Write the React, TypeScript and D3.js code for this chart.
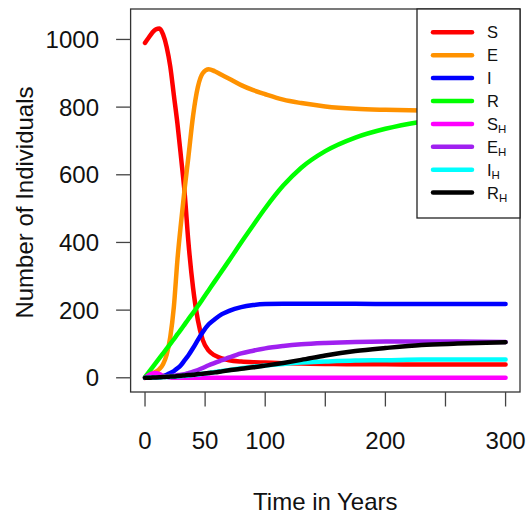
import React from 'react';
import * as d3 from 'd3';

// ---- data ----
const TIME = [0, 3, 6, 9, 12, 15, 18, 21, 24, 27, 30, 33, 36, 40, 44, 48, 53, 58, 64, 70, 80, 90, 100, 115, 130, 150, 175, 200, 230, 260, 300];

const S_VALUES = [990, 1005, 1020, 1030, 1032, 1015, 978, 920, 835, 750, 650, 545, 405, 265, 170, 112, 80, 66, 57, 52, 48, 46, 45, 43, 42, 41, 40, 40, 39, 39, 39];
const E_VALUES = [0, 6, 12, 18, 26, 40, 68, 120, 210, 350, 460, 560, 650, 775, 860, 900, 912, 906, 895, 884, 865, 850, 838, 822, 812, 802, 795, 792, 790, 789, 788];
const I_VALUES = [0, 0, 1, 2, 3, 5, 9, 14, 20, 28, 38, 52, 66, 88, 112, 135, 158, 173, 188, 198, 209, 215, 218, 219, 219, 219, 218.5, 218, 218, 218, 218];
const R_VALUES = [2, 16, 30, 44, 58, 72, 86, 100, 114, 129, 143, 158, 173, 192, 212, 233, 259, 285, 316, 347, 400, 451, 501, 568, 621, 670, 710, 736, 757, 771, 782];
const SH_VALUES = [0, 8, 13, 14, 11, 6, 3, 1, 0.3, 0, 0, 0, 0, 0, 0, 0, 0, 0, 0, 0, 0, 0, 0, 0, 0, 0, 0, 0, 0, 0, 0];
const EH_VALUES = [0, 0, 1, 1, 2, 3, 4, 5, 6, 8, 9, 11, 14, 18, 23, 29, 37, 44, 52, 60, 72, 80, 87, 94, 99, 103, 106, 107, 107, 107, 106];
const IH_VALUES = [0, 0, 0, 1, 1, 2, 2, 3, 3, 4, 5, 6, 7, 8, 10, 12, 14, 17, 20, 23, 28, 33, 36, 41, 45, 48, 51, 52, 54, 54, 54];
const RH_VALUES = [0, 0, 0.5, 1, 1.5, 2, 3, 3.5, 4, 5, 6, 7, 8, 9, 11, 12, 14, 16, 19, 22, 27, 31, 36, 44, 53, 66, 79, 88, 97, 101, 105];

const SERIES_LABELS = [
  { main: 'S', sub: '' },
  { main: 'E', sub: '' },
  { main: 'I', sub: '' },
  { main: 'R', sub: '' },
  { main: 'S', sub: 'H' },
  { main: 'E', sub: 'H' },
  { main: 'I', sub: 'H' },
  { main: 'R', sub: 'H' },
];
const SERIES_VALUES = [S_VALUES, E_VALUES, I_VALUES, R_VALUES, SH_VALUES, EH_VALUES, IH_VALUES, RH_VALUES];
const SERIES_COLORS = ['#FF0000', '#FF9200', '#0000FF', '#00FF00', '#FF00FF', '#A020F0', '#00FFFF', '#000000'];

const X_TICKS = [0, 50, 100, 150, 200, 250, 300];
const X_TICK_LABELS = ['0', '50', '100', '', '200', '', '300'];
const Y_TICKS = [0, 200, 400, 600, 800, 1000];

const X_TITLE = 'Time in Years';
const Y_TITLE = 'Number of Individuals';

// ---- layout ----
const W = 527;
const H = 514;
const PLOT = { left: 130.6, right: 520, top: 9, bottom: 392 };
const FONT = '"Liberation Sans", Arial, Helvetica, sans-serif';
const TICK = 14.5;

export default function App() {
  const x = d3.scaleLinear().domain([-12, 312]).range([PLOT.left, PLOT.right]);
  const y = d3.scaleLinear().domain([-42, 1090]).range([PLOT.bottom, PLOT.top]);

  const line = d3
    .line<number>()
    .x((_, i) => x(TIME[i]))
    .y((d) => y(d))
    .curve(d3.curveMonotoneX);

  const legend = { left: 417, right: PLOT.right, top: PLOT.top, bottom: 218 };
  const rowY0 = 32.3;
  const rowStep = 22.9;

  return (
    <svg
      width={W}
      height={H}
      style={{ position: 'absolute', left: 0, top: 0, background: '#fff' }}
      fontFamily={FONT}
    >
      <defs>
        <clipPath id="plotClip">
          <rect x={PLOT.left} y={PLOT.top} width={PLOT.right - PLOT.left} height={PLOT.bottom - PLOT.top} />
        </clipPath>
      </defs>
      <rect x={0} y={0} width={W} height={H} fill="#fff" />

      {/* curves */}
      <g clipPath="url(#plotClip)">
        {SERIES_VALUES.map((vals, k) => (
          <path
            key={k}
            d={line(vals) || ''}
            fill="none"
            stroke={SERIES_COLORS[k]}
            strokeWidth={4.5}
            strokeLinejoin="round"
            strokeLinecap="round"
          />
        ))}
      </g>

      {/* box */}
      <rect
        x={PLOT.left}
        y={PLOT.top}
        width={PLOT.right - PLOT.left}
        height={PLOT.bottom - PLOT.top}
        fill="none"
        stroke="#333"
        strokeWidth={1.3}
      />

      {/* x axis */}
      <g>
        {X_TICKS.map((t, i) => (
          <g key={t}>
            <line x1={x(t)} x2={x(t)} y1={PLOT.bottom} y2={PLOT.bottom + TICK} stroke="#444" strokeWidth={1.3} />
            {X_TICK_LABELS[i] && (
              <text x={x(t)} y={449} textAnchor="middle" fontSize={24} fill="#111">
                {X_TICK_LABELS[i]}
              </text>
            )}
          </g>
        ))}
      </g>

      {/* y axis */}
      <g>
        {Y_TICKS.map((v) => (
          <g key={v}>
            <line x1={PLOT.left - TICK} x2={PLOT.left} y1={y(v)} y2={y(v)} stroke="#444" strokeWidth={1.3} />
            <text x={99} y={y(v)} textAnchor="end" dominantBaseline="central" fontSize={24} fill="#111">
              {v}
            </text>
          </g>
        ))}
      </g>

      {/* titles */}
      <text x={(PLOT.left + PLOT.right) / 2} y={510} textAnchor="middle" fontSize={24} fill="#111">
        {X_TITLE}
      </text>
      <text
        transform={`translate(33, ${(PLOT.top + PLOT.bottom) / 2 + 2}) rotate(-90)`}
        textAnchor="middle"
        fontSize={24}
        fill="#111"
      >
        {Y_TITLE}
      </text>

      {/* legend */}
      <rect
        x={legend.left}
        y={legend.top}
        width={legend.right - legend.left}
        height={legend.bottom - legend.top}
        fill="#fff"
        stroke="#222"
        strokeWidth={1.3}
      />
      {SERIES_LABELS.map((lab, k) => {
        const ry = rowY0 + k * rowStep;
        return (
          <g key={k}>
            <line x1={433} x2={472} y1={ry} y2={ry} stroke={SERIES_COLORS[k]} strokeWidth={4.5} strokeLinecap="round" />
            <text x={487} y={ry + 6} fontSize={16.5} fill="#111">
              {lab.main}
              {lab.sub && (
                <tspan fontSize={11.5} dy={3}>
                  {lab.sub}
                </tspan>
              )}
            </text>
          </g>
        );
      })}
    </svg>
  );
}
